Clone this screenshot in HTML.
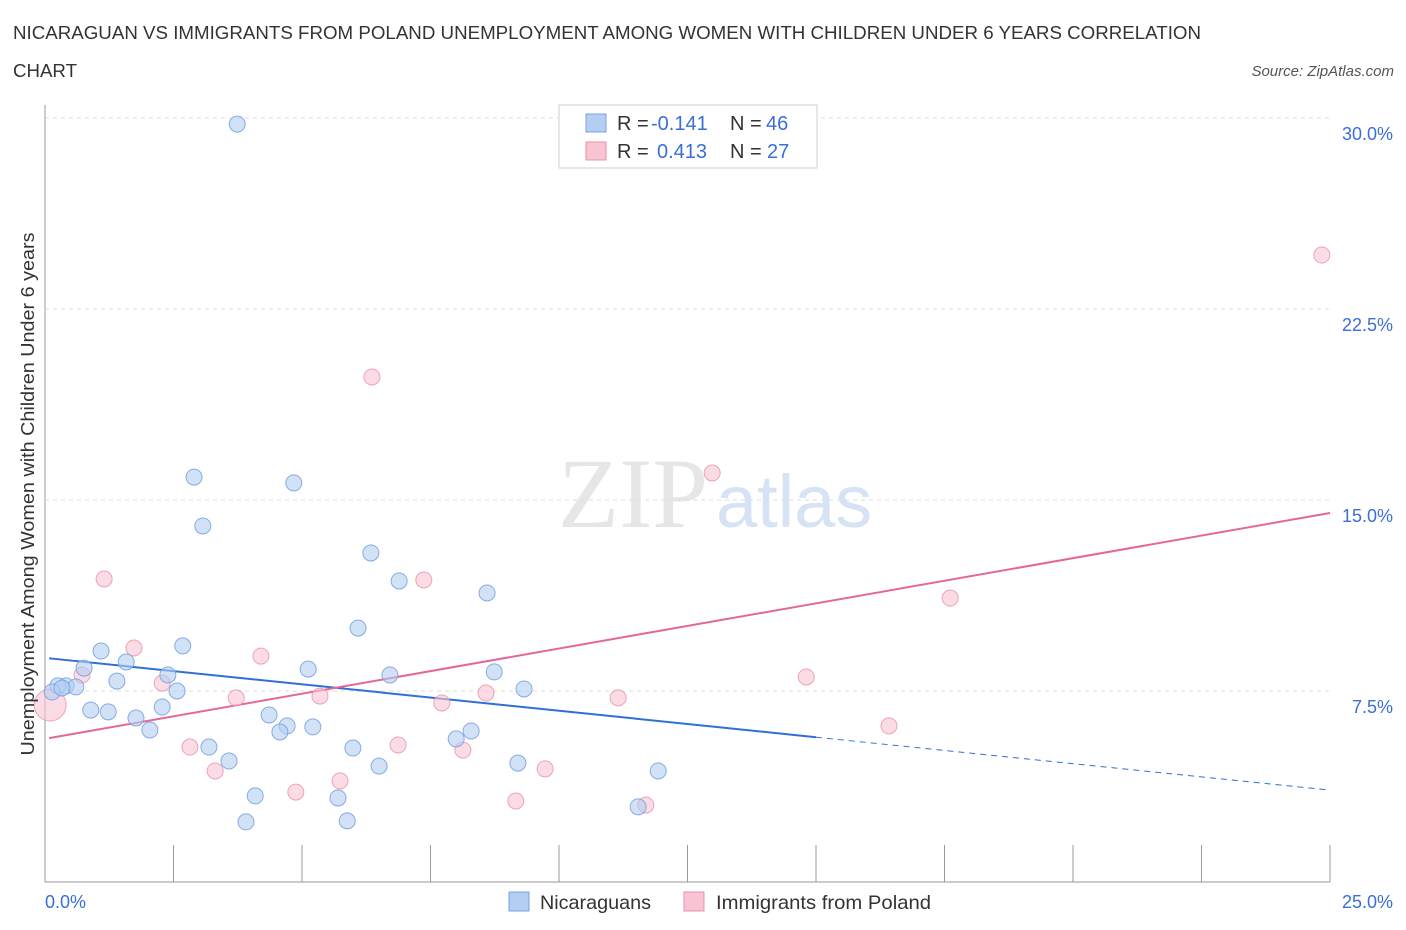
<!DOCTYPE html>
<html><head><meta charset="utf-8"><style>
body{margin:0;background:#fff;font-family:"Liberation Sans",sans-serif;}
svg{display:block}
</style></head><body>
<svg id="c" width="1406" height="930">
<text x="13" y="39" font-size="18" fill="#333" textLength="1188" lengthAdjust="spacingAndGlyphs">NICARAGUAN VS IMMIGRANTS FROM POLAND UNEMPLOYMENT AMONG WOMEN WITH CHILDREN UNDER 6 YEARS CORRELATION</text>
<text x="13" y="77" font-size="18" fill="#333" textLength="64" lengthAdjust="spacingAndGlyphs">CHART</text>
<text x="1394" y="76" font-size="15" fill="#555" text-anchor="end" font-style="italic">Source: ZipAtlas.com</text>
<text x="708" y="527" font-size="100" fill="#e6e6e6" text-anchor="end" font-family="Liberation Serif,serif">ZIP</text>
<text x="716" y="527" font-size="74" fill="#d6e3f5">atlas</text>
<g id="grid"></g><g id="trend"></g><g id="pts"></g>
<text transform="translate(34,494) rotate(-90)" font-size="18" fill="#333" text-anchor="middle" textLength="523" lengthAdjust="spacingAndGlyphs">Unemployment Among Women with Children Under 6 years</text>
<text x="45" y="908" font-size="18" fill="#3a6fd8">0.0%</text>
<text x="1393" y="908" font-size="18" fill="#3a6fd8" text-anchor="end">25.0%</text>
<g>
<rect x="559" y="105" width="258" height="63" fill="#fff" stroke="#ccc"/>
<rect x="586" y="114" width="20" height="18" fill="#b3cef2" stroke="#7aa3e0"/>
<rect x="586" y="142" width="20" height="18" fill="#f8c4d2" stroke="#e890aa"/>
<text x="617" y="130" font-size="20" fill="#333">R = <tspan fill="#3a6fd8" x="651">-0.141</tspan><tspan x="730">N = </tspan><tspan fill="#3a6fd8" x="766">46</tspan></text>
<text x="617" y="158" font-size="20" fill="#333">R = <tspan fill="#3a6fd8" x="657">0.413</tspan><tspan x="730">N = </tspan><tspan fill="#3a6fd8" x="767">27</tspan></text>
</g>
<g>
<rect x="509" y="892" width="20" height="19" fill="#b3cef2" stroke="#7aa3e0"/>
<text x="540" y="909" font-size="19.5" fill="#333" textLength="111" lengthAdjust="spacingAndGlyphs">Nicaraguans</text>
<rect x="684" y="892" width="20" height="19" fill="#f8c4d2" stroke="#e890aa"/>
<text x="716" y="909" font-size="19.5" fill="#333" textLength="215" lengthAdjust="spacingAndGlyphs">Immigrants from Poland</text>
</g>
</svg>
<script>
const yTicks=[7.5,15,22.5,30];
const yTickLabels=["7.5%","15.0%","22.5%","30.0%"];
const blueX=[3.74,2.90,3.07,4.84,6.34,6.89,8.60,6.09,2.68,1.09,1.58,0.76,5.12,2.39,6.71,8.74,1.40,2.57,9.32,0.41,0.25,0.60,0.89,1.23,2.28,1.77,4.36,4.71,5.21,4.57,2.04,8.29,8.00,3.19,5.99,3.58,6.50,9.20,11.93,4.09,5.70,11.54,3.91,5.88,0.14,0.33];
const blueY=[29.76,15.90,13.98,15.67,12.92,11.82,11.35,9.97,9.27,9.07,8.64,8.40,8.36,8.13,8.13,8.25,7.89,7.50,7.58,7.70,7.70,7.66,6.75,6.68,6.87,6.44,6.56,6.13,6.09,5.89,5.97,5.93,5.62,5.30,5.26,4.75,4.55,4.67,4.36,3.38,3.30,2.95,2.36,2.40,7.46,7.62];
const pinkX=[24.84,6.36,12.98,1.15,7.37,17.61,1.73,4.20,0.72,2.28,3.72,5.35,8.58,11.15,14.81,7.72,16.42,2.82,6.87,8.13,3.31,9.73,5.74,4.88,9.16,11.69,0.10];
const pinkY=[24.62,19.83,16.06,11.90,11.86,11.15,9.19,8.87,8.13,7.81,7.23,7.30,7.42,7.23,8.05,7.03,6.13,5.30,5.38,5.18,4.36,4.44,3.97,3.53,3.18,3.02,6.95];
const blueTrend=[8.80,3.61];
const pinkTrend=[5.62,14.49];
const NS="http://www.w3.org/2000/svg";
const X=v=>45+v/25*1285, Y=v=>882-v/30*764;
function mk(t,a,p){const e=document.createElementNS(NS,t);for(const k in a)e.setAttribute(k,a[k]);p.appendChild(e);return e;}
const g=document.getElementById('grid');
const ax=mk('line',{x1:45,y1:105,x2:45,y2:882,stroke:'#999'},g);


const bx=mk('line',{x1:45,y1:882,x2:1330,y2:882,stroke:'#999'},g);


yTicks.forEach((t,i)=>{
 const l=mk('line',{x1:45,y1:Y(t),x2:1330,y2:Y(t),stroke:'#ddd','stroke-dasharray':'4,4'},g);
 
 
 const tx=mk('text',{x:1393,y:Y(t)+22,'font-size':18,fill:'#3a6fd8','text-anchor':'end'},g);
 tx.textContent=yTickLabels[i];
 
 
});
for(let i=0;i<=10;i++){
 const l=mk('line',{x1:X(i*2.5),y1:845,x2:X(i*2.5),y2:882,stroke:'#999'},g);
 
 
}
const tr=document.getElementById('trend');
const xm=(816-45)/1285*25;
const by=v=>blueTrend[0]+(blueTrend[1]-blueTrend[0])*v/25;
const l1=mk('line',{x1:X(0.08),y1:Y(by(0.08)),x2:X(xm),y2:Y(by(xm)),stroke:'#2f6fd6','stroke-width':2},tr);


const l2=mk('line',{x1:X(xm),y1:Y(by(xm)),x2:X(25),y2:Y(by(25)),stroke:'#2f6fd6','stroke-width':1,'stroke-dasharray':'6,5'},tr);


const py=v=>pinkTrend[0]+(pinkTrend[1]-pinkTrend[0])*v/25;
const l3=mk('line',{x1:X(0.08),y1:Y(py(0.08)),x2:X(25),y2:Y(py(25)),stroke:'#e5679a','stroke-width':2},tr);


const pg=document.getElementById('pts');
pinkX.forEach((v,i)=>{
 const c=mk('circle',{cx:X(v),cy:Y(pinkY[i]),r:i==pinkX.length-1?16:8,fill:'#f8c4d2','fill-opacity':0.6,stroke:'#e890aa','stroke-opacity':0.8},pg);
 
 
});
blueX.forEach((v,i)=>{
 const c=mk('circle',{cx:X(v),cy:Y(blueY[i]),r:8,fill:'#b3cef2','fill-opacity':0.6,stroke:'#7aa3e0','stroke-opacity':0.9},pg);
 
 
});
</script>
</body></html>
